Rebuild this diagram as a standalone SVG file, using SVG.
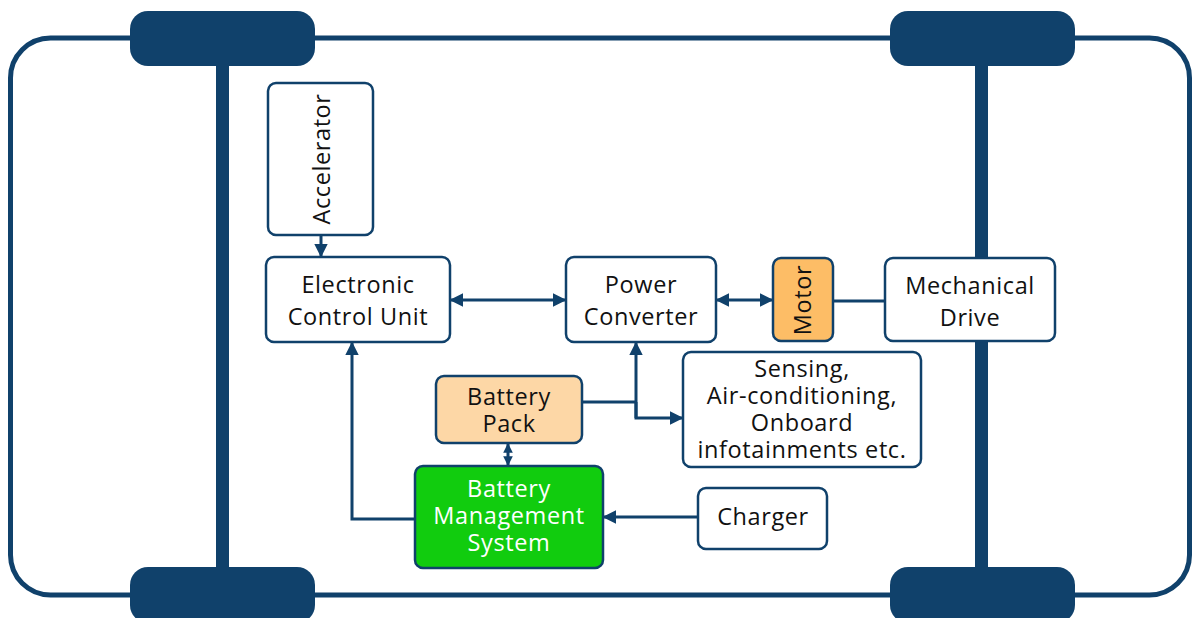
<svg xmlns="http://www.w3.org/2000/svg" width="1192" height="618" viewBox="0 0 1192 618">
<style>
.box{fill:#fff;stroke:#10416B;stroke-width:2.5}
.t{font-family:"Open Sans","Noto Sans",sans-serif;font-size:23.5px;letter-spacing:0.6px;fill:#111;text-anchor:middle}
.c{stroke:#10416B;stroke-width:3;fill:none}
.chassis{fill:#10416B}
</style>
<defs>
<marker id="ah" viewBox="0 0 10 10" refX="9" refY="5" markerWidth="4.5" markerHeight="4.5" orient="auto-start-reverse" markerUnits="strokeWidth">
<path d="M0,0 L10,5 L0,10 z" fill="#10416B"/>
</marker>
<marker id="ahs" viewBox="0 0 10 10" refX="9" refY="5" markerWidth="3.2" markerHeight="3.6" orient="auto-start-reverse" markerUnits="strokeWidth">
<path d="M0,0 L10,5 L0,10 z" fill="#10416B"/>
</marker>
</defs>
<g id="chassis">
<rect x="10.5" y="38" width="1179" height="557" rx="40" fill="none" stroke="#10416B" stroke-width="5"/>
<rect x="216" y="40" width="13" height="550" class="chassis"/>
<rect x="975" y="40" width="13" height="550" class="chassis"/>
<rect x="130" y="11" width="185" height="55" rx="18" class="chassis"/>
<rect x="890" y="11" width="185" height="55" rx="18" class="chassis"/>
<rect x="130" y="567" width="185" height="56" rx="18" class="chassis"/>
<rect x="890" y="567" width="185" height="56" rx="18" class="chassis"/>
</g>
<g id="connectors">
<line x1="321" y1="235" x2="321" y2="256" class="c" marker-end="url(#ah)"/>
<line x1="451" y1="300" x2="565" y2="300" class="c" marker-start="url(#ah)" marker-end="url(#ah)"/>
<line x1="717" y1="300" x2="772" y2="300" class="c" marker-start="url(#ah)" marker-end="url(#ah)"/>
<line x1="833" y1="301" x2="885" y2="301" class="c"/>
<polyline points="582,402 636,402" class="c"/>
<line x1="636" y1="418" x2="636" y2="343" class="c" marker-end="url(#ah)"/>
<polyline points="636,402 636,418 682,418" class="c" marker-end="url(#ah)"/>
<line x1="508" y1="444" x2="508" y2="465" class="c" marker-start="url(#ahs)" marker-end="url(#ahs)"/>
<line x1="698" y1="517" x2="604" y2="517" class="c" marker-end="url(#ah)"/>
<polyline points="415,519 352,519 352,343" class="c" marker-end="url(#ah)"/>
</g>
<g id="accelerator">
<rect x="268" y="83" width="105" height="152" rx="8" class="box"/>
<text class="t" transform="translate(330,159) rotate(-90)">Accelerator</text>
</g>
<g id="ecu">
<rect x="266" y="257" width="184" height="85" rx="8" class="box"/>
<text class="t" x="358" y="293">Electronic</text>
<text class="t" x="358" y="325">Control Unit</text>
</g>
<g id="power-converter">
<rect x="566" y="257" width="150" height="85" rx="8" class="box"/>
<text class="t" x="641" y="293">Power</text>
<text class="t" x="641" y="325">Converter</text>
</g>
<g id="motor">
<rect x="773" y="258" width="60" height="83" rx="8" class="box" style="fill:#FDBD66"/>
<text class="t" transform="translate(811,300) rotate(-90)">Motor</text>
</g>
<g id="mechanical-drive">
<rect x="885" y="258" width="170" height="83" rx="8" class="box"/>
<text class="t" x="970" y="294">Mechanical</text>
<text class="t" x="970" y="326">Drive</text>
</g>
<g id="loads">
<rect x="683" y="352" width="238" height="115" rx="8" class="box"/>
<text class="t" x="802" y="377">Sensing,</text>
<text class="t" x="802" y="404">Air-conditioning,</text>
<text class="t" x="802" y="431">Onboard</text>
<text class="t" x="802" y="458">infotainments etc.</text>
</g>
<g id="battery-pack">
<rect x="436" y="376" width="146" height="67" rx="8" class="box" style="fill:#FDD7A6"/>
<text class="t" x="509" y="405">Battery</text>
<text class="t" x="509" y="432">Pack</text>
</g>
<g id="bms">
<rect x="415" y="466" width="188" height="102" rx="8" class="box" style="fill:#11CC0E"/>
<text class="t" x="509" y="497" style="fill:#fff">Battery</text>
<text class="t" x="509" y="524" style="fill:#fff">Management</text>
<text class="t" x="509" y="551" style="fill:#fff">System</text>
</g>
<g id="charger">
<rect x="698" y="488" width="129" height="61" rx="8" class="box"/>
<text class="t" x="763" y="525">Charger</text>
</g>
</svg>
